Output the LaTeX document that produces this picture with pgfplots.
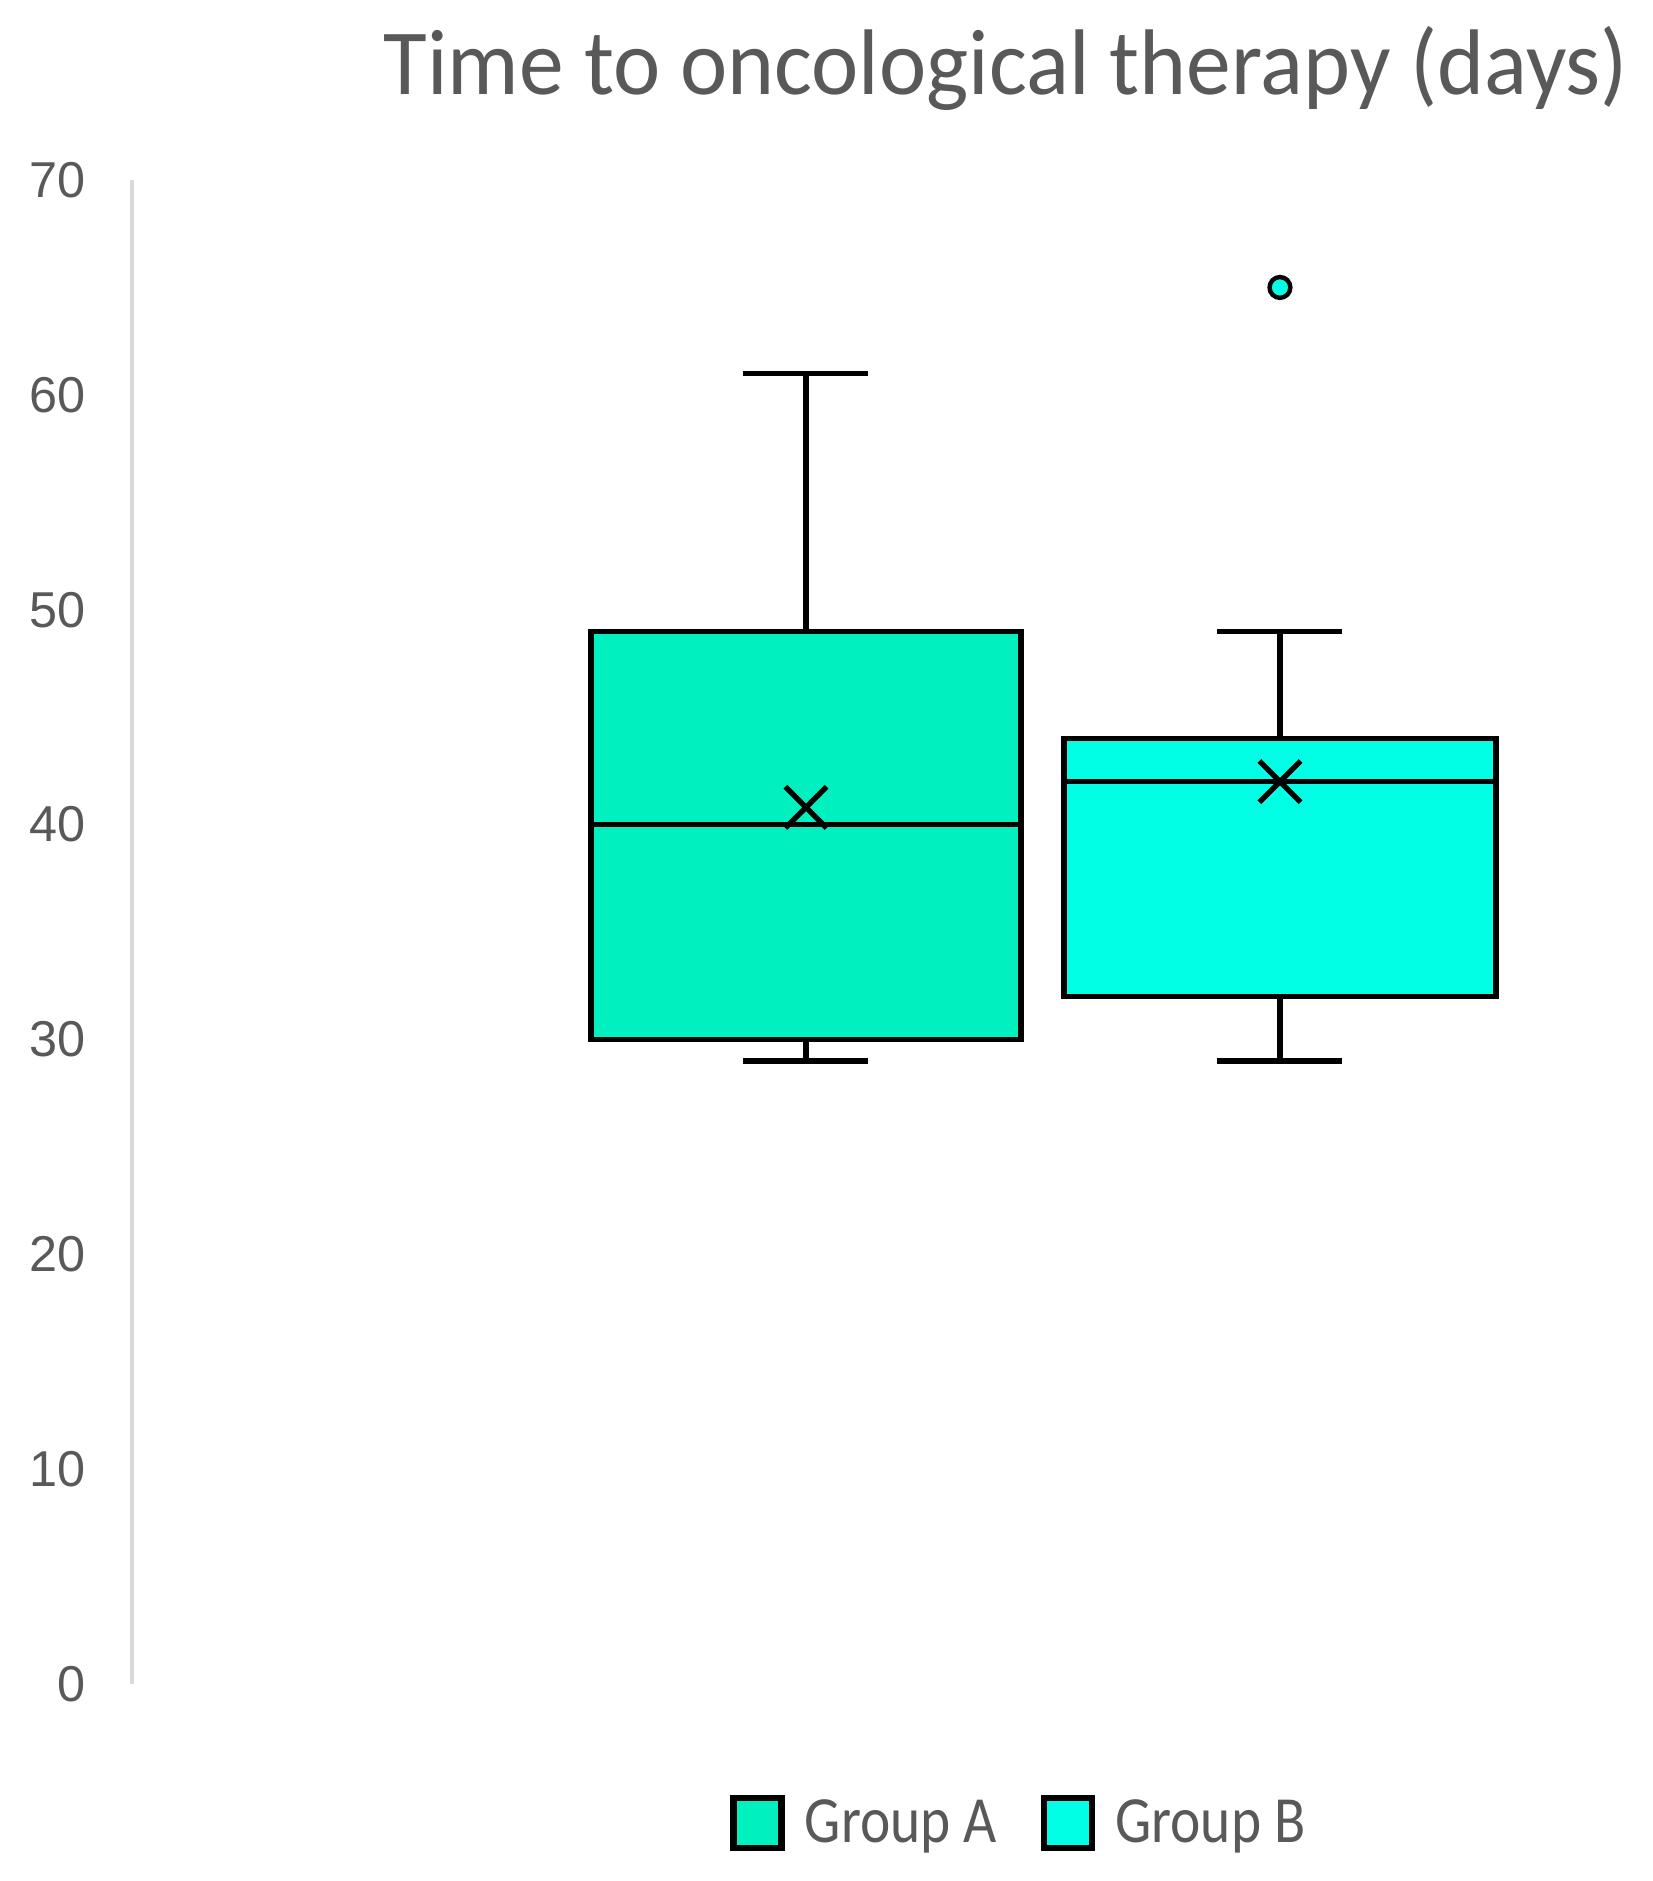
\documentclass[border=0pt]{standalone}
\usepackage{pgfplots}
\pgfplotsset{compat=1.18}
\usepgfplotslibrary{statistics}
\usepackage{fontspec}
\setmainfont{Carlito}
\newfontfamily\titlefont[FakeStretch=0.96]{Carlito}
\newfontfamily\legfont[FakeStretch=0.87]{Carlito}
\newfontfamily\tickfont{Liberation Sans}
\definecolor{txtgray}{RGB}{89,89,89}
\definecolor{axgray}{RGB}{217,217,217}
\definecolor{colA}{RGB}{0,240,192}
\definecolor{colB}{RGB}{0,255,228}
\begin{document}
\begin{tikzpicture}
\begin{axis}[
  scale only axis,
  width=380.25pt, height=376pt,
  xmin=132, xmax=1653, ymin=0, ymax=70,
  clip=false,
  axis x line=none,
  axis y line*=left,
  y axis line style={draw=axgray, line width=1pt},
  ytick={0,10,...,70},
  major tick length=0pt,
  yticklabel style={font=\tickfont\fontsize{12.6}{14}\selectfont, text=txtgray, anchor=east, inner sep=0pt, xshift=-11.5pt},
  /pgf/number format/assume math mode=true,
  boxplot/draw direction=y,
  boxplot/every average/.style={/tikz/mark=x, /tikz/mark size=7.3pt, /tikz/line width=1.2pt, /tikz/draw=black},
  legend columns=2,
  legend style={at={(axis cs:1022,-6.52)}, anchor=center, draw=none, fill=none,
    font=\legfont\fontsize{16.5}{18}\selectfont, text=txtgray,
    /tikz/every odd column/.append style={column sep=3pt},
    /tikz/every even column/.append style={column sep=9pt}},
  legend image code/.code={\draw[#1] (0pt,-6pt) rectangle (12pt,6.5pt);},
]
\addplot[forget plot, draw=black, line width=1.3pt, fill=colA,
  boxplot prepared={draw direction=y, draw position=806, lower whisker=29, lower quartile=30, median=40, upper quartile=49, upper whisker=61, average=40.8, box extend=430, whisker extend=125}]
  coordinates {};
\addplot[forget plot, draw=black, line width=1.3pt, fill=colB, mark=*, mark size=2.6pt, mark options={fill=colB, draw=black, line width=1.1pt},
  boxplot prepared={draw direction=y, draw position=1280, lower whisker=29, lower quartile=32, median=42, upper quartile=44, upper whisker=49, average=42, box extend=432, whisker extend=125}]
  coordinates {(0,65)};
\addlegendimage{draw=black, line width=1.6pt, fill=colA}
\addlegendentry{Group A}
\addlegendimage{draw=black, line width=1.6pt, fill=colB}
\addlegendentry{Group B}
\node[anchor=base, text=txtgray, font=\titlefont\fontsize{23.3}{26}\selectfont, inner sep=0pt] at (axis cs:1006,74.0) {Time to oncological therapy (days)};
\path (axis cs:0,78.38) rectangle (axis cs:1653,-9.17);
\end{axis}
\end{tikzpicture}
\end{document}
